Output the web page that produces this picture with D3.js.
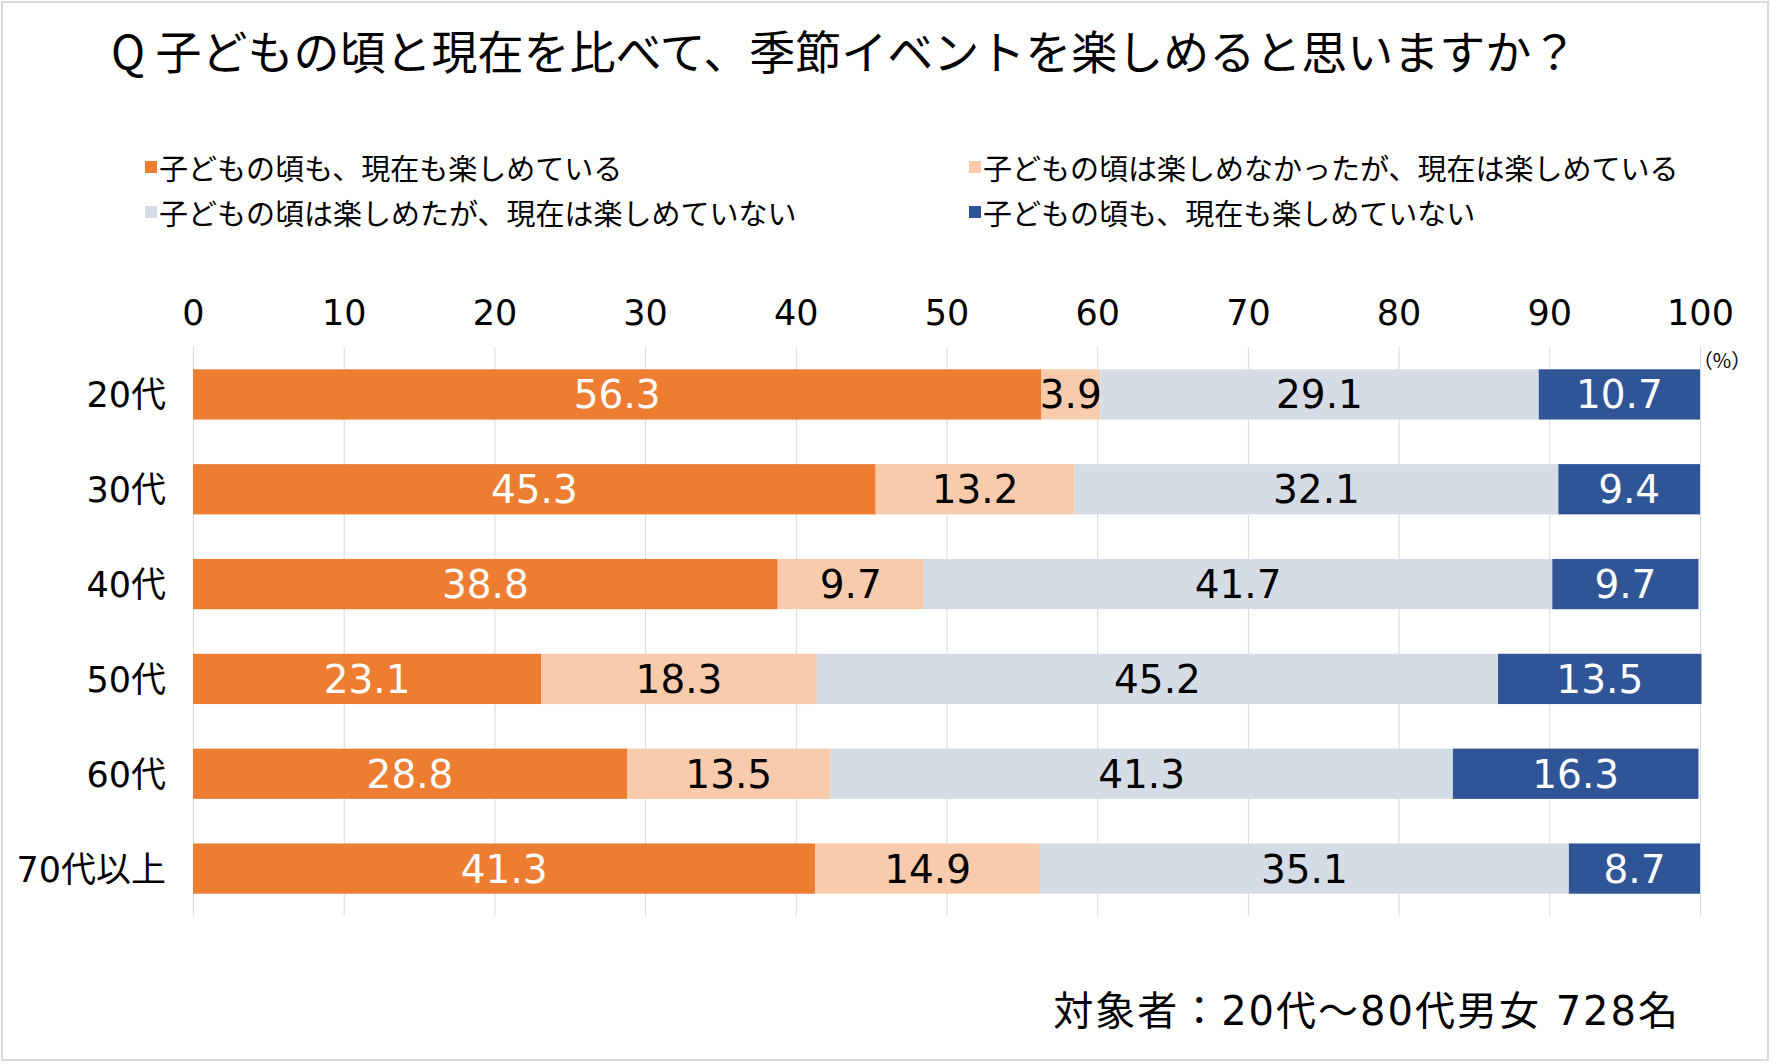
<!DOCTYPE html>
<html><head><meta charset="utf-8">
<script src="https://cdn.jsdelivr.net/npm/d3@7"></script>
<style>
html,body{margin:0;padding:0;background:#fff;}
svg{display:block;font-family:"Noto Sans CJK JP","Noto Sans",sans-serif;}
</style></head>
<body>
<svg id="chart" width="1792" height="1064"></svg>
<script>
const title = "Q 子どもの頃と現在を比べて、季節イベントを楽しめると思いますか？";
const categories = ["20代","30代","40代","50代","60代","70代以上"];
const seriesNames = [
  "子どもの頃も、現在も楽しめている",
  "子どもの頃は楽しめなかったが、現在は楽しめている",
  "子どもの頃は楽しめたが、現在は楽しめていない",
  "子どもの頃も、現在も楽しめていない"
];
const s1 = [56.3, 45.3, 38.8, 23.1, 28.8, 41.3];
const s2 = [3.9, 13.2, 9.7, 18.3, 13.5, 14.9];
const s3 = [29.1, 32.1, 41.7, 45.2, 41.3, 35.1];
const s4 = [10.7, 9.4, 9.7, 13.5, 16.3, 8.7];
const colors = ["#ED7D31","#F8CBAD","#D6DCE5","#2F5597"];
const labelColors = ["#ffffff","#000000","#000000","#ffffff"];
const xTicks = [0,10,20,30,40,50,60,70,80,90,100];
const footnote = "対象者：20代～80代男女 728名";
const unitLabel = "（%）";

const digitFont = "'DejaVu Sans','Noto Sans CJK JP',sans-serif";
const series = [s1,s2,s3,s4];
const rows = categories.map((c,i)=>{
  const r = {cat:c};
  series.forEach((s,k)=>r["k"+k]=s[i]);
  return r;
});
const keys = series.map((s,k)=>"k"+k);
const stacked = d3.stack().keys(keys)(rows);

const svg = d3.select("#chart");
// frame
svg.append("rect").attr("x",2).attr("y",2).attr("width",1766).attr("height",1058)
  .attr("fill","#fff").attr("stroke","#d9d9d9").attr("stroke-width",2);

const x = d3.scaleLinear().domain([0,100]).range([193,1700]);
const y = d3.scaleBand().domain(categories).range([347,916]).paddingInner(0.47).paddingOuter(0.235);

// title
svg.append("text").attr("x",111).attr("y",49).attr("dominant-baseline","central")
  .attr("font-size",46).attr("fill","#000").text(title);

// legend
const legPos = [[145,167],[969,167],[145,212],[969,212]];
[0,1,2,3].forEach((k,i)=>{
  const [lx,ly] = legPos[i];
  svg.append("rect").attr("x",lx).attr("y",ly-6).attr("width",12).attr("height",12).attr("fill",colors[k]);
  svg.append("text").attr("x",lx+14).attr("y",ly).attr("dominant-baseline","central")
    .attr("font-size",29).attr("fill","#000").text(seriesNames[k]);
});

// gridlines
svg.append("g").selectAll("line").data(xTicks).join("line")
  .attr("x1",d=>x(d)+0.5).attr("x2",d=>x(d)+0.5).attr("y1",347).attr("y2",916)
  .attr("stroke","#d9d9d9").attr("stroke-width",1);

// top axis
const ax = svg.append("g").attr("transform","translate(0,325)")
  .call(d3.axisTop(x).tickValues(xTicks).tickSize(0).tickPadding(0).tickFormat(d3.format("d")));
ax.select(".domain").remove();
ax.selectAll("text").attr("font-size",35).attr("fill","#000").attr("font-family",digitFont)
  .attr("dy",0);

// category axis
const ay = svg.append("g").attr("transform","translate(166,0)")
  .call(d3.axisLeft(y).tickSize(0).tickPadding(0));
ay.select(".domain").remove();
ay.selectAll("text").attr("font-size",35).attr("fill","#000").attr("font-family",digitFont)
  .attr("dy","0.37em");

// bars
const g = svg.append("g");
stacked.forEach((layer,k)=>{
  g.append("g").selectAll("rect").data(layer).join("rect")
    .attr("x",d=>x(d[0])).attr("width",d=>x(d[1])-x(d[0]))
    .attr("y",d=>y(d.data.cat)).attr("height",y.bandwidth())
    .attr("fill",colors[k]);
});
stacked.forEach((layer,k)=>{
  g.append("g").selectAll("text").data(layer).join("text")
    .attr("x",d=>(x(d[0])+x(d[1]))/2)
    .attr("y",d=>y(d.data.cat)+y.bandwidth()/2)
    .attr("dy","0.36em")
    .attr("text-anchor","middle")
    .attr("font-size",39).attr("font-family",digitFont).attr("fill",labelColors[k])
    .text(d=>d3.format(".1f")(d[1]-d[0]));
});

// unit
svg.append("text").attr("x",1722).attr("y",359).attr("text-anchor","middle")
  .attr("dominant-baseline","central").attr("font-size",20).attr("fill","#000").text(unitLabel);

// footnote
svg.append("text").attr("x",1680).attr("y",1011).attr("text-anchor","end")
  .attr("dominant-baseline","central").attr("font-size",40).attr("letter-spacing",2)
  .attr("font-family",digitFont).attr("fill","#000").text(footnote);
</script>
</body></html>
